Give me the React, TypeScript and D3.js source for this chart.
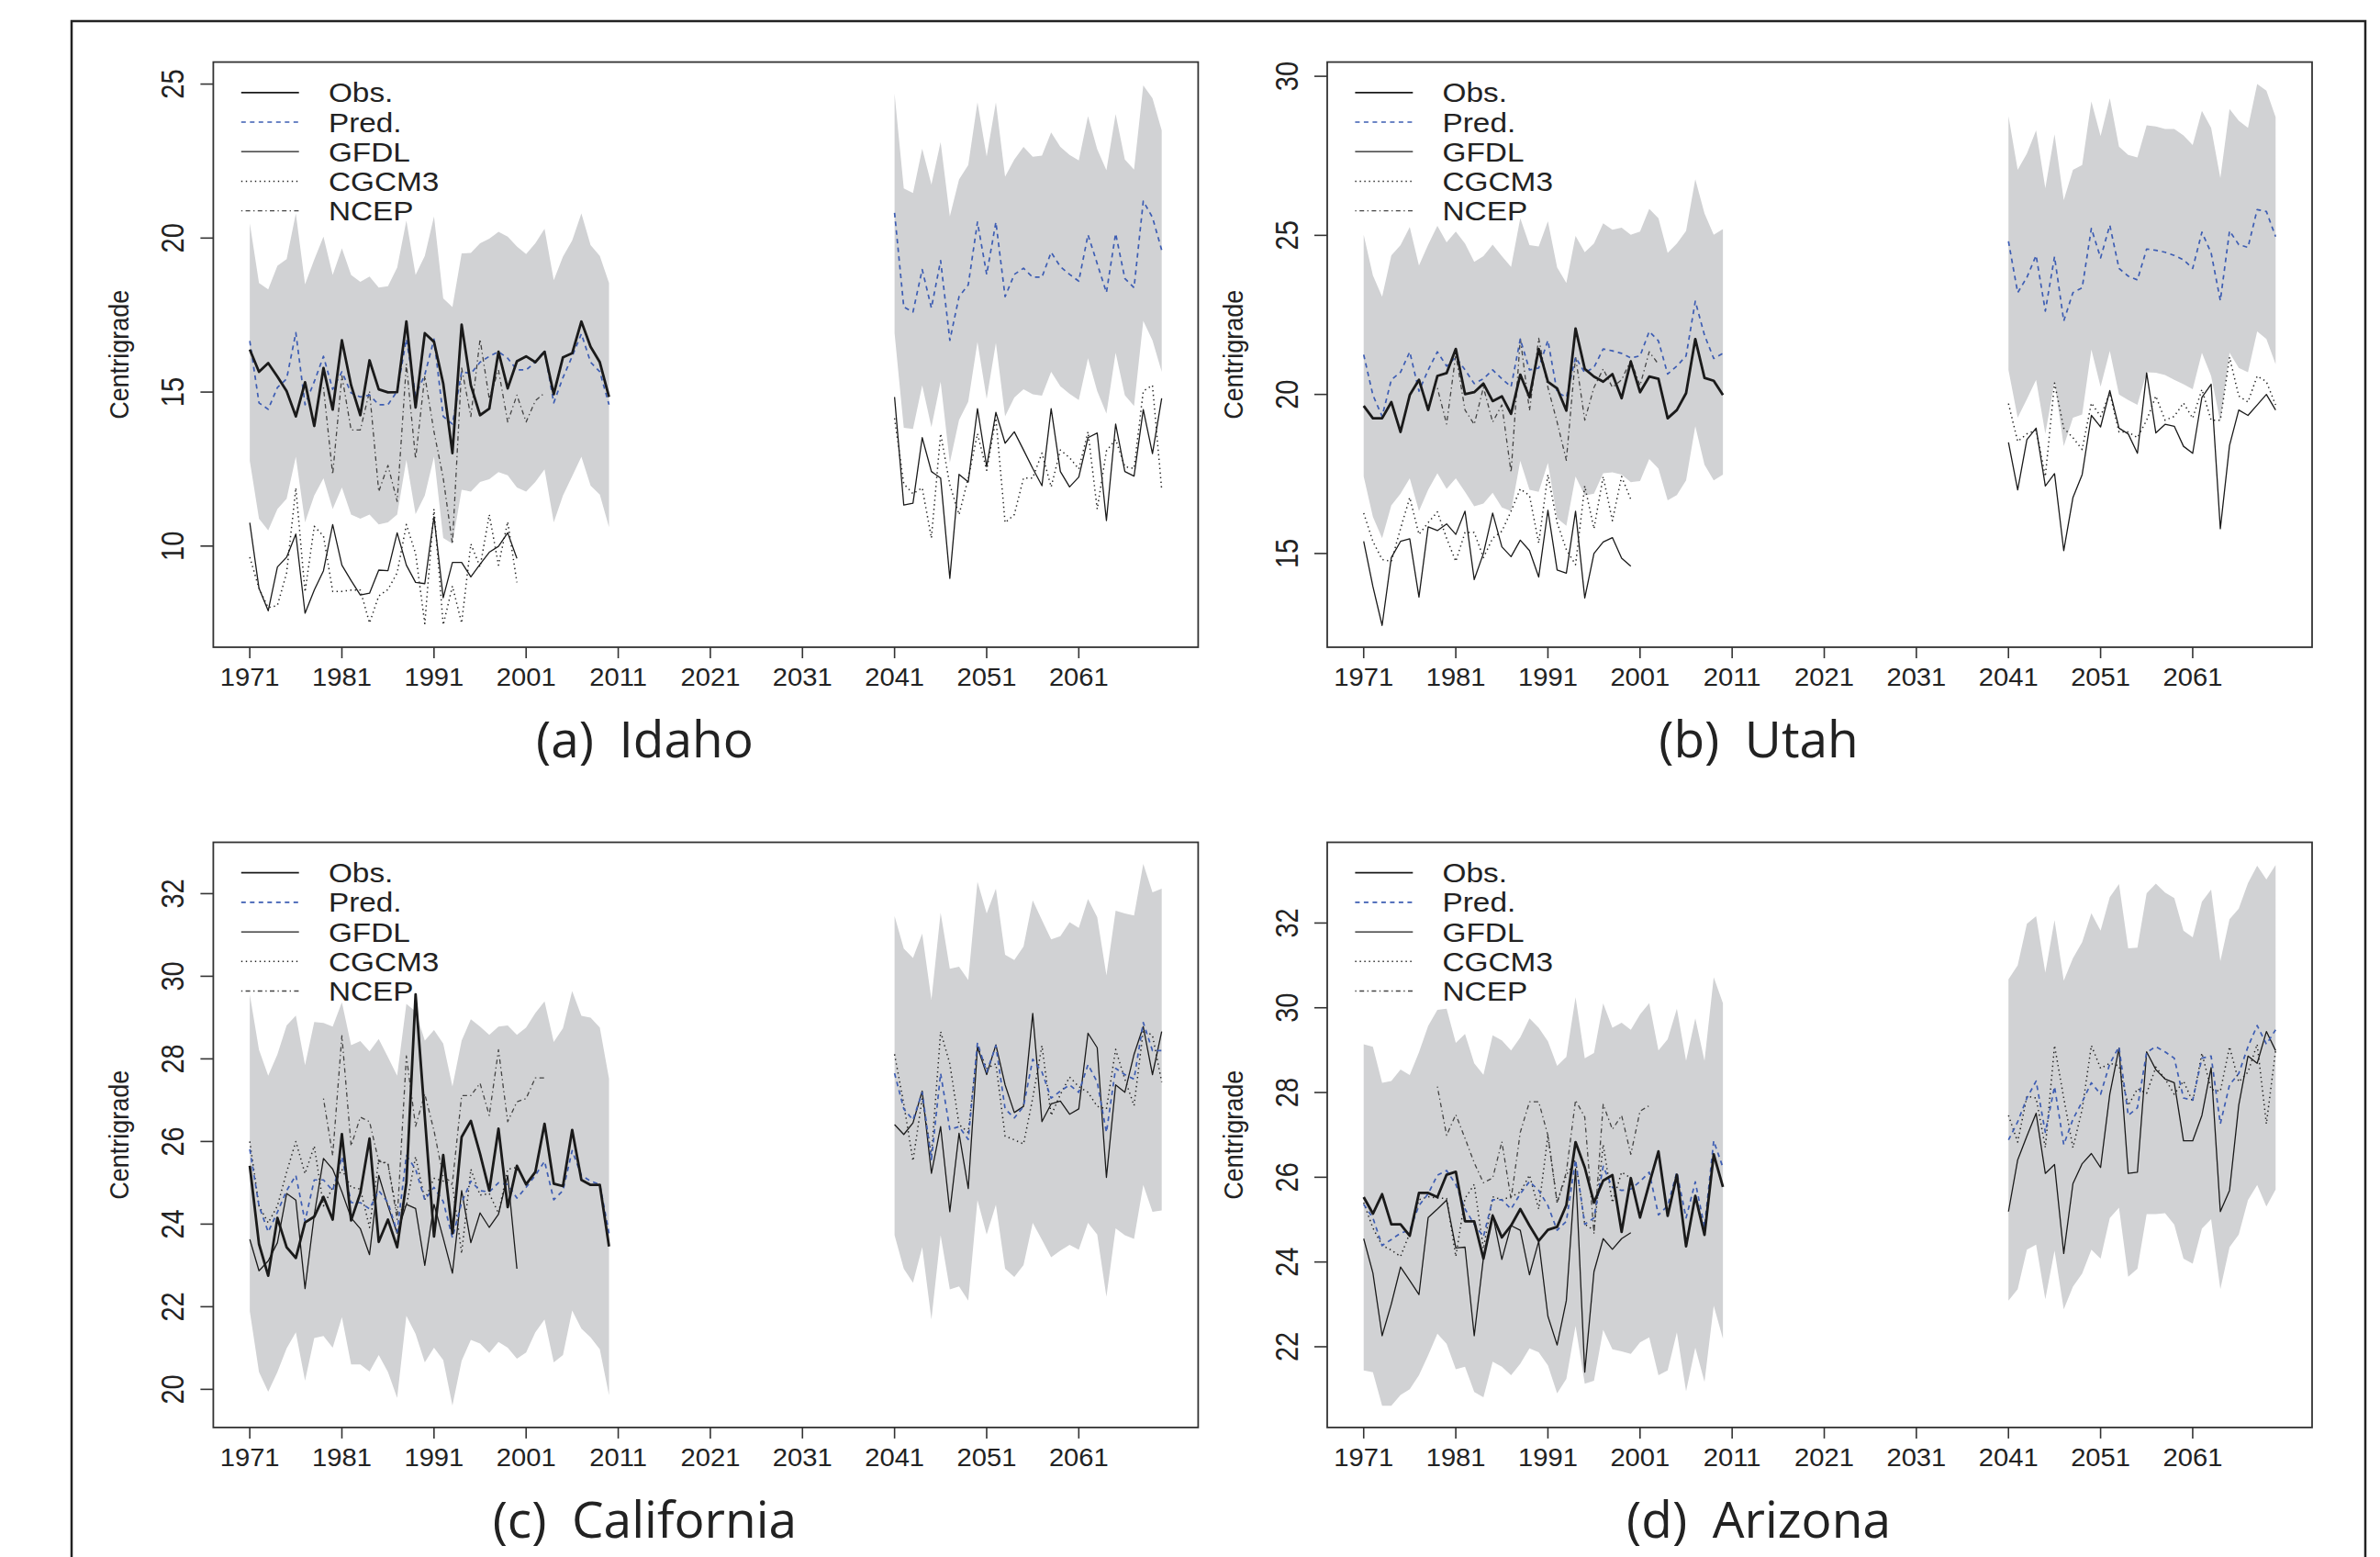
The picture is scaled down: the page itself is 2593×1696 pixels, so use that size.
import React from 'react';
import * as d3 from 'd3';

// ---------- categories / ticks ----------
const HIST_YEARS = d3.range(1971, 2011);
const FUT_YEARS = d3.range(2041, 2071);
const MODEL_HIST_YEARS = d3.range(1971, 2001);
const X_TICKS = [1971, 1981, 1991, 2001, 2011, 2021, 2031, 2041, 2051, 2061];
const X_DOMAIN: [number, number] = [1967.04, 2073.96];
const LEGEND_LABELS = ['Obs.', 'Pred.', 'GFDL', 'CGCM3', 'NCEP'];

// ---------- (a) Idaho ----------
const idahoObs = [16.38,15.66,15.94,15.5,15.03,14.21,15.32,13.9,15.78,14.43,16.68,15.22,14.25,16.03,15.09,14.99,15.0,17.29,14.5,16.91,16.63,15.28,13.02,17.19,15.22,14.25,14.46,16.31,15.12,16.0,16.16,15.97,16.31,14.93,16.13,16.26,17.29,16.47,15.97,14.84];
const idahoPredHist = [16.66,14.65,14.44,15.15,15.43,16.93,14.59,15.34,16.16,15.09,15.66,14.97,14.84,14.9,14.59,14.59,15.03,16.72,14.9,15.56,16.72,14.21,13.96,15.66,15.6,15.97,16.16,16.31,16.1,15.72,15.72,15.97,16.35,14.65,15.47,16.16,16.89,15.97,15.66,14.59];
const idahoUpHist = [20.48,18.54,18.33,19.1,19.32,20.8,18.5,19.3,20.05,18.8,19.67,18.8,18.58,18.75,18.39,18.44,19.04,20.57,18.8,19.42,20.7,18.04,17.76,19.5,19.52,19.83,19.98,20.2,20.05,19.73,19.48,19.83,20.3,18.63,19.4,19.92,20.8,19.77,19.42,18.54];
const idahoLoHist = [12.77,10.89,10.51,11.2,11.54,12.9,10.77,11.64,12.2,11.2,11.9,11.02,10.89,11.02,10.7,10.77,11.02,12.8,11.04,11.64,12.9,10.26,10.08,11.83,11.77,12.08,12.17,12.4,12.3,11.9,11.77,12.08,12.49,10.77,11.64,12.27,12.9,11.96,11.67,10.61];
const idahoPredFut = [20.82,17.76,17.6,18.98,17.73,19.27,16.68,18.1,18.48,20.52,18.82,20.52,18.1,18.82,19.02,18.73,18.73,19.54,19.07,18.82,18.6,20.11,19.17,18.23,20.15,18.69,18.39,21.2,20.67,19.61];
const idahoUpFut = [24.69,21.61,21.46,22.9,21.74,23.12,20.7,21.9,22.37,24.41,22.65,24.41,21.99,22.55,22.96,22.64,22.68,23.43,22.96,22.7,22.52,23.96,22.89,22.2,24.03,22.55,22.22,24.96,24.54,23.5];
const idahoLoFut = [16.91,13.84,13.8,15.22,13.86,15.34,12.71,14.09,14.69,16.63,14.78,16.6,14.21,14.82,15.09,14.93,14.88,15.66,15.19,14.94,14.74,16.1,15.03,14.3,16.28,14.9,14.55,17.31,16.68,15.66];
const idahoGfdlHist = [10.76,8.63,7.9,9.32,9.64,10.39,7.82,8.57,9.2,10.7,9.38,8.88,8.41,8.47,9.22,9.2,10.43,9.38,8.82,8.78,10.95,8.32,9.47,9.47,9.0,9.41,9.8,9.99,10.43,9.6];
const idahoCgcmHist = [9.64,8.63,8.0,8.07,9.13,11.89,8.51,10.64,10.33,8.53,8.53,8.57,8.57,7.5,8.38,8.59,9.13,10.7,9.76,7.48,11.2,7.44,8.7,7.5,10.07,9.32,11.02,9.38,10.79,8.82];
const idahoGfdlFut = [14.84,11.33,11.39,13.52,12.42,12.21,8.95,12.33,12.08,14.46,12.58,14.34,13.34,13.71,13.12,12.52,11.96,14.46,12.42,11.92,12.24,13.52,13.67,10.83,13.96,12.42,12.27,14.43,13.0,14.8];
const idahoCgcmFut = [14.15,12.02,11.7,11.89,10.26,13.65,11.99,11.02,12.21,13.65,12.46,14.15,10.76,11.02,12.21,12.21,13.02,11.92,13.12,12.87,12.5,13.71,11.2,13.09,13.46,12.58,12.52,15.03,15.22,11.83];
const idahoNcep = [15.15,12.33,15.53,13.77,13.77,15.03,11.77,12.62,11.45,15.91,12.83,15.53,13.71,12.21,10.07,15.78,14.21,16.72,14.78,15.72,14.03,14.9,14.03,14.72,14.97];

// ---------- (b) Utah ----------
const utahObs = [19.64,19.25,19.25,19.76,18.82,19.98,20.46,19.51,20.58,20.67,21.43,20.01,20.07,20.34,19.79,19.94,19.39,20.62,19.91,21.43,20.4,20.19,19.49,22.07,20.8,20.56,20.4,20.64,19.88,21.03,20.07,20.56,20.49,19.25,19.51,20.04,21.74,20.52,20.43,19.98];
const utahPredHist = [21.25,19.98,19.31,20.46,20.7,21.34,20.1,20.77,21.34,20.89,21.17,20.77,20.34,20.49,20.77,20.49,20.24,21.74,20.77,20.83,21.7,20.07,19.91,21.17,20.68,20.85,21.43,21.37,21.29,21.15,21.21,21.98,21.68,20.64,20.89,21.21,22.93,21.86,21.13,21.29];
const utahUpHist = [25.02,23.74,23.07,24.37,24.69,25.26,24.05,24.71,25.3,24.78,25.12,24.74,24.17,24.35,24.71,24.35,24.01,25.54,24.69,24.65,25.44,23.99,23.5,24.98,24.47,24.74,25.38,25.18,25.24,25.02,25.12,25.83,25.54,24.45,24.74,25.14,26.76,25.69,25.02,25.2];
const utahLoHist = [17.42,16.15,15.48,16.51,16.88,17.36,16.33,17.0,17.52,17.03,17.36,16.94,16.48,16.57,16.91,16.45,16.33,17.91,17.0,16.94,17.85,16.11,15.87,17.42,16.82,16.88,17.52,17.55,17.48,17.24,17.28,17.97,17.67,16.67,16.84,17.3,19.0,17.79,17.3,17.48];
const utahPredFut = [24.81,23.2,23.68,24.37,22.62,24.33,22.31,23.2,23.35,25.22,24.29,25.32,23.96,23.72,23.6,24.57,24.53,24.47,24.37,24.23,23.96,25.1,24.45,22.95,25.14,24.71,24.62,25.81,25.75,24.96];
const utahUpFut = [28.75,27.06,27.57,28.3,26.48,28.18,26.11,27.06,27.21,29.21,28.12,29.31,27.79,27.53,27.45,28.46,28.42,28.34,28.34,28.14,27.84,28.91,28.38,26.8,28.97,28.6,28.38,29.76,29.55,28.72];
const utahLoFut = [20.77,19.27,19.85,20.46,18.76,20.4,18.37,19.27,19.37,21.41,20.24,21.37,20.0,19.82,19.67,20.7,20.68,20.61,20.46,20.32,20.16,21.31,20.58,19.13,21.31,20.83,20.7,21.98,21.74,20.95];
const utahGfdlHist = [15.38,13.96,12.74,14.87,15.38,15.46,13.63,15.84,15.72,15.93,15.6,16.33,14.18,15.0,16.27,15.21,14.9,15.42,15.09,14.26,16.36,14.48,14.38,16.33,13.6,15.0,15.36,15.5,14.85,14.6];
const utahCgcmHist = [16.27,15.38,14.81,14.75,15.78,16.76,15.6,15.97,16.31,15.48,14.75,15.66,15.66,14.87,15.48,15.7,16.33,17.03,16.82,15.33,17.48,15.97,15.12,14.65,17.12,15.78,17.42,16.03,17.42,16.7];
const utahGfdlFut = [18.49,17.0,18.58,18.94,17.12,17.51,15.09,16.76,17.48,19.34,18.98,20.12,18.94,18.76,18.15,20.68,18.79,19.06,19.0,18.37,18.15,19.91,20.32,15.78,18.4,19.51,19.34,19.67,20.0,19.51];
const utahCgcmFut = [19.71,18.52,18.76,18.88,17.42,20.36,18.94,18.64,18.27,19.73,19.31,20.04,18.82,18.82,18.64,19.19,19.95,19.19,19.31,19.73,19.25,20.16,19.19,19.19,21.17,19.95,19.76,20.58,20.4,19.67];
const utahNcep = [20.2,19.07,21.25,19.51,19.06,20.22,19.13,19.67,17.55,21.77,19.49,21.77,20.22,19.13,17.93,21.19,19.19,20.22,20.8,20.22,20.46,21.07,20.28,21.34,20.95];

// ---------- (c) California ----------
const caliObs = [25.41,23.52,22.75,24.15,23.44,23.18,24.04,24.18,24.66,24.11,26.18,24.09,24.75,26.07,23.57,24.11,23.44,25.0,29.56,26.6,23.7,25.67,23.78,26.11,26.5,25.7,24.81,26.31,24.41,25.41,24.96,25.26,26.43,24.98,24.92,26.28,25.07,24.95,24.95,23.46];
const caliPredHist = [25.81,24.44,23.81,24.29,24.81,25.18,24.07,25.07,25.07,24.81,25.63,24.52,24.52,24.37,24.81,24.52,23.81,25.66,25.33,24.59,24.89,24.55,23.67,24.52,25.04,24.81,24.78,25.0,24.96,24.63,24.89,25.18,25.52,24.59,24.81,25.78,25.18,25.04,24.96,23.78];
const caliUpHist = [29.56,28.22,27.59,28.11,28.81,29.05,27.85,28.89,28.87,28.78,29.37,28.33,28.43,28.18,28.48,28.04,27.59,29.33,29.15,28.44,28.7,28.37,27.33,28.44,28.96,28.78,28.58,28.78,28.81,28.58,28.76,29.11,29.39,28.41,28.74,29.64,29.04,29.0,28.76,27.52];
const caliLoHist = [21.89,20.42,19.94,20.42,20.99,21.38,20.21,21.24,21.29,21.01,21.75,20.6,20.6,20.43,20.83,20.42,19.79,21.78,21.34,20.65,21.01,20.71,19.61,20.69,21.2,21.11,20.88,21.15,21.01,20.74,20.89,21.38,21.69,20.65,20.83,21.91,21.47,21.26,20.97,19.86];
const caliPredFut = [27.65,26.79,26.52,27.19,25.56,27.65,26.29,26.36,26.05,28.39,27.68,28.32,26.79,26.57,26.85,27.99,27.68,27.05,27.22,27.37,27.19,27.86,27.44,26.22,27.77,27.62,27.51,28.88,28.2,28.2];
const caliUpFut = [31.46,30.67,30.44,31.03,29.43,31.54,30.18,30.23,29.91,32.29,31.52,32.12,30.52,30.39,30.72,31.84,31.36,30.89,30.97,31.31,31.17,31.87,31.43,30.02,31.59,31.52,31.47,32.72,32.03,32.12];
const caliLoFut = [23.73,22.92,22.58,23.44,21.69,23.73,22.42,22.49,22.15,24.58,23.75,24.47,22.92,22.72,23.01,24.03,23.62,23.2,23.36,23.5,23.38,24.03,23.75,22.24,23.9,23.73,23.64,24.95,24.3,24.33];
const caliGfdlHist = [23.63,22.87,23.11,23.55,24.74,24.58,22.44,24.22,25.59,25.33,24.78,24.15,23.89,23.26,25.18,24.44,23.78,24.48,24.38,23.0,24.48,23.66,22.81,24.81,23.55,24.27,23.92,24.24,25.18,22.92];
const caliCgcmHist = [26.0,24.44,24.03,24.44,25.26,26.0,25.22,25.89,24.44,24.89,25.33,24.89,24.85,23.92,25.55,25.44,24.26,24.44,25.63,24.59,25.11,25.04,24.96,23.29,25.33,24.7,24.74,24.26,25.33,25.37];
const caliGfdlFut = [26.41,26.17,26.45,27.22,25.23,26.36,24.3,26.2,24.86,28.29,27.62,28.34,27.37,26.7,26.85,29.1,26.48,26.91,26.98,26.66,26.79,28.62,28.27,25.13,27.37,27.19,28.11,28.78,27.62,28.66];
const caliCgcmFut = [28.11,26.91,25.53,27.05,25.67,28.66,27.88,26.41,26.22,28.29,27.77,27.88,26.13,26.04,25.94,27.05,28.32,26.63,27.14,27.56,27.33,27.19,26.85,26.79,28.23,27.51,26.87,28.69,28.57,27.44];
const caliNcep = [27.04,25.66,28.56,25.89,26.59,26.48,25.52,25.48,24.11,28.07,26.37,27.15,26.26,25.15,25.0,27.11,27.11,27.41,26.63,28.22,26.48,26.96,27.04,27.54,27.54];

// ---------- (d) Arizona ----------
const arizObs = [25.53,25.14,25.6,24.89,24.89,24.62,25.63,25.63,25.53,26.06,26.13,24.96,24.96,24.08,25.09,24.58,24.86,25.25,24.86,24.5,24.76,24.83,25.34,26.83,26.23,25.4,25.92,26.05,24.71,25.98,25.05,25.85,26.61,25.09,26.06,24.37,25.56,24.64,26.54,25.77];
const arizPredHist = [25.36,25.04,24.39,24.53,24.68,24.75,25.33,25.61,26.05,26.16,25.83,25.25,24.89,24.6,25.47,25.47,25.25,25.61,25.9,25.69,25.33,24.75,24.96,26.41,24.89,25.04,26.26,25.76,25.69,25.72,25.9,26.12,25.11,25.33,26.12,25.04,25.89,24.82,26.86,26.23];
const arizUpHist = [29.14,29.08,28.23,28.27,28.54,28.41,28.95,29.57,29.95,29.98,29.17,29.38,28.69,28.42,29.35,29.23,28.99,29.3,29.75,29.53,29.21,28.63,28.84,30.25,28.81,28.93,30.1,29.53,29.65,29.48,29.84,30.11,28.99,29.26,29.98,28.75,29.75,28.75,30.72,30.11];
const arizLoHist = [21.44,21.4,20.61,20.61,20.86,21.0,21.33,21.8,22.31,22.07,21.47,21.53,20.93,20.81,21.65,21.53,21.33,21.6,21.96,21.87,21.56,20.9,21.24,22.49,21.13,21.2,22.4,21.94,21.89,21.83,22.1,22.22,21.33,21.44,22.34,20.95,21.98,21.17,22.97,22.19];
const arizPredFut = [26.88,27.31,27.87,28.27,27.06,28.14,26.77,27.37,27.78,28.23,27.96,28.68,29.08,27.46,27.64,28.95,29.08,28.96,28.81,27.87,27.82,28.81,28.86,27.26,28.18,28.45,29.08,29.58,29.14,29.48];
const arizUpFut = [30.67,31.0,31.98,32.16,30.83,32.07,30.64,31.17,31.55,32.23,31.82,32.61,32.92,31.4,31.42,32.7,32.93,32.72,32.59,31.82,31.66,32.5,32.79,31.1,32.09,32.34,32.94,33.35,33.03,33.37];
const arizLoFut = [23.09,23.36,24.29,24.41,23.12,24.27,22.88,23.42,23.73,24.29,24.08,25.04,25.28,23.65,23.84,25.13,25.13,25.15,24.88,24.08,23.96,24.79,25.01,23.36,24.35,24.65,25.46,25.82,25.31,25.71];
const arizGfdlHist = [24.55,23.74,22.26,23.01,23.88,23.56,23.23,25.05,25.25,25.46,24.33,24.35,22.26,24.1,25.12,24.06,24.86,24.75,23.7,24.49,22.72,22.04,23.09,26.2,21.4,23.77,24.55,24.3,24.55,24.69];
const arizCgcmHist = [25.4,24.8,24.39,24.28,24.13,24.68,25.47,25.54,25.51,25.5,24.13,25.5,25.83,24.31,25.54,25.47,25.54,25.65,26.05,25.25,26.99,25.4,26.05,26.41,24.89,24.75,26.77,25.4,26.12,25.98];
const arizGfdlFut = [25.19,26.41,26.97,27.51,26.09,26.3,24.2,25.85,26.32,26.56,26.23,27.96,29.05,26.09,26.12,28.96,28.54,28.32,28.23,26.86,26.86,27.46,28.59,25.19,25.69,27.7,28.86,28.69,29.44,28.99];
const arizCgcmFut = [27.46,26.83,27.91,27.87,26.7,29.11,27.87,26.7,27.6,29.11,28.57,28.69,28.63,27.69,28.09,27.98,28.6,28.32,27.96,28.27,27.78,28.93,28.07,28.03,29.08,28.25,28.48,29.14,27.26,28.99];
const arizNcep = [28.14,26.99,27.48,26.92,26.34,25.87,25.98,26.84,25.48,27.06,27.78,27.78,26.99,25.4,26.12,27.82,27.42,24.68,27.72,27.13,27.46,26.54,27.56,27.69];

// ---------- styling ----------
const W = 2593;
const H = 1696;
const BOX_W = 1073;
const BOX_H = 637.4;
const BAND = '#d1d2d4';
const BLUE = '#3d5db3';
const FONT = '"Liberation Sans", Arial, Helvetica, sans-serif';
const CAP_FONT = '"Open Sans", "Noto Sans", sans-serif';

type Series = {
  obs: number[]; predHist: number[]; upHist: number[]; loHist: number[];
  predFut: number[]; upFut: number[]; loFut: number[];
  gfdlHist: number[]; cgcmHist: number[]; gfdlFut: number[]; cgcmFut: number[];
  ncep: number[]; ncepStart: number;
};

const STYLES: Record<string, { stroke: string; width: number; dash?: string }> = {
  obs: { stroke: '#1a1a1a', width: 2.8 },
  pred: { stroke: BLUE, width: 1.7, dash: '5,4.5' },
  gfdl: { stroke: '#1a1a1a', width: 1.3 },
  cgcm: { stroke: '#222', width: 1.5, dash: '1.4,3.6' },
  ncep: { stroke: '#444', width: 1.3, dash: '1.4,3.4,5,3.4' },
};
const LEGEND_KEYS = ['obs', 'pred', 'gfdl', 'cgcm', 'ncep'];

function Panel(props: {
  bx: number; by: number; yDomain: [number, number]; yTicks: number[];
  caption: string; s: Series;
}) {
  const { bx, by, yDomain, yTicks, caption, s } = props;
  const x = d3.scaleLinear().domain(X_DOMAIN).range([bx, bx + BOX_W]);
  const y = d3.scaleLinear().domain(yDomain).range([by + BOX_H, by]);
  const line = d3.line<[number, number]>().x((p) => x(p[0])).y((p) => y(p[1]));
  const area = d3
    .area<[number, number, number]>()
    .x((p) => x(p[0]))
    .y0((p) => y(p[1]))
    .y1((p) => y(p[2]));
  const zip = (yrs: number[], v: number[]) => yrs.map((yr, i) => [yr, v[i]] as [number, number]);
  const band = (yrs: number[], lo: number[], up: number[]) =>
    yrs.map((yr, i) => [yr, lo[i], up[i]] as [number, number, number]);
  const ncepYears = d3.range(s.ncepStart, s.ncepStart + s.ncep.length);

  const path = (d: string | null, key: string) => {
    const st = STYLES[key];
    return (
      <path d={d || ''} fill="none" stroke={st.stroke} strokeWidth={st.width}
        strokeDasharray={st.dash} strokeLinejoin="round" />
    );
  };

  const bottom = by + BOX_H;
  return (
    <g>
      <path d={area(band(HIST_YEARS, s.loHist, s.upHist)) || ''} fill={BAND} />
      <path d={area(band(FUT_YEARS, s.loFut, s.upFut)) || ''} fill={BAND} />
      {path(line(zip(MODEL_HIST_YEARS, s.gfdlHist)), 'gfdl')}
      {path(line(zip(FUT_YEARS, s.gfdlFut)), 'gfdl')}
      {path(line(zip(MODEL_HIST_YEARS, s.cgcmHist)), 'cgcm')}
      {path(line(zip(FUT_YEARS, s.cgcmFut)), 'cgcm')}
      {path(line(zip(ncepYears, s.ncep)), 'ncep')}
      {path(line(zip(HIST_YEARS, s.predHist)), 'pred')}
      {path(line(zip(FUT_YEARS, s.predFut)), 'pred')}
      {path(line(zip(HIST_YEARS, s.obs)), 'obs')}

      <rect x={bx} y={by} width={BOX_W} height={BOX_H} fill="none" stroke="#333" strokeWidth={1.8} />

      {X_TICKS.map((t) => (
        <g key={'x' + t}>
          <line x1={x(t)} x2={x(t)} y1={bottom} y2={bottom + 12} stroke="#333" strokeWidth={1.6} />
          <text transform={`translate(${x(t)},${bottom + 42}) scale(1.08,1)`} textAnchor="middle"
            fontFamily={FONT} fontSize={27} fill="#222">{t}</text>
        </g>
      ))}
      {yTicks.map((t) => (
        <g key={'y' + t}>
          <line x1={bx - 14} x2={bx} y1={y(t)} y2={y(t)} stroke="#333" strokeWidth={1.6} />
          <text transform={`translate(${bx - 32},${y(t)}) scale(1.2,1) rotate(-90)`} textAnchor="middle"
            fontFamily={FONT} fontSize={29} fill="#222">{t}</text>
        </g>
      ))}
      <text transform={`translate(${bx - 92},${by + BOX_H / 2}) scale(1.1,1) rotate(-90)`} textAnchor="middle"
        fontFamily={FONT} fontSize={27} fill="#222">Centrigrade</text>

      {LEGEND_KEYS.map((k, i) => {
        const ry = by + 33.2 + i * 32.2;
        const st = STYLES[k];
        return (
          <g key={'lg' + k}>
            <line x1={bx + 30.4} x2={bx + 93.3} y1={ry} y2={ry} stroke={st.stroke}
              strokeWidth={k === 'obs' ? 1.8 : st.width} strokeDasharray={st.dash} />
            <text transform={`translate(${bx + 125.5},${ry + 10.5}) scale(1.15,1)`}
              fontFamily={FONT} fontSize={29} fill="#222">{LEGEND_LABELS[i]}</text>
          </g>
        );
      })}

      <text x={bx + 470} y={by + 757} textAnchor="middle" fontFamily={CAP_FONT} fontSize={55}
        fill="#222" xmlSpace="preserve">{caption}</text>
    </g>
  );
}

const idaho: Series = {
  obs: idahoObs, predHist: idahoPredHist, upHist: idahoUpHist, loHist: idahoLoHist,
  predFut: idahoPredFut, upFut: idahoUpFut, loFut: idahoLoFut,
  gfdlHist: idahoGfdlHist, cgcmHist: idahoCgcmHist, gfdlFut: idahoGfdlFut, cgcmFut: idahoCgcmFut,
  ncep: idahoNcep, ncepStart: 1979,
};
const utah: Series = {
  obs: utahObs, predHist: utahPredHist, upHist: utahUpHist, loHist: utahLoHist,
  predFut: utahPredFut, upFut: utahUpFut, loFut: utahLoFut,
  gfdlHist: utahGfdlHist, cgcmHist: utahCgcmHist, gfdlFut: utahGfdlFut, cgcmFut: utahCgcmFut,
  ncep: utahNcep, ncepStart: 1979,
};
const cali: Series = {
  obs: caliObs, predHist: caliPredHist, upHist: caliUpHist, loHist: caliLoHist,
  predFut: caliPredFut, upFut: caliUpFut, loFut: caliLoFut,
  gfdlHist: caliGfdlHist, cgcmHist: caliCgcmHist, gfdlFut: caliGfdlFut, cgcmFut: caliCgcmFut,
  ncep: caliNcep, ncepStart: 1979,
};
const ariz: Series = {
  obs: arizObs, predHist: arizPredHist, upHist: arizUpHist, loHist: arizLoHist,
  predFut: arizPredFut, upFut: arizUpFut, loFut: arizLoFut,
  gfdlHist: arizGfdlHist, cgcmHist: arizCgcmHist, gfdlFut: arizGfdlFut, cgcmFut: arizCgcmFut,
  ncep: arizNcep, ncepStart: 1979,
};

export default function App() {
  return (
    <svg width={W} height={H} viewBox={`0 0 ${W} ${H}`}
      style={{ position: 'absolute', left: 0, top: 0, background: '#fff' }}>
      <rect x={0} y={0} width={W} height={H} fill="#fff" />
      <path d={`M78,${H + 10} L78,23 L2577,23 L2577,${H + 10}`} fill="none" stroke="#222" strokeWidth={2.5} />
      <Panel bx={232.4} by={67.6} yDomain={[6.716, 25.715]} yTicks={[10, 15, 20, 25]}
        caption={'(a)\u2002Idaho'} s={idaho} />
      <Panel bx={1446} by={67.6} yDomain={[12.054, 30.447]} yTicks={[15, 20, 25, 30]}
        caption={'(b)\u2002Utah'} s={utah} />
      <Panel bx={232.4} by={917.5} yDomain={[19.077, 33.243]} yTicks={[20, 22, 24, 26, 28, 30, 32]}
        caption={'(c)\u2002California'} s={cali} />
      <Panel bx={1446} by={917.5} yDomain={[20.095, 33.905]} yTicks={[22, 24, 26, 28, 30, 32]}
        caption={'(d)\u2002Arizona'} s={ariz} />
    </svg>
  );
}
